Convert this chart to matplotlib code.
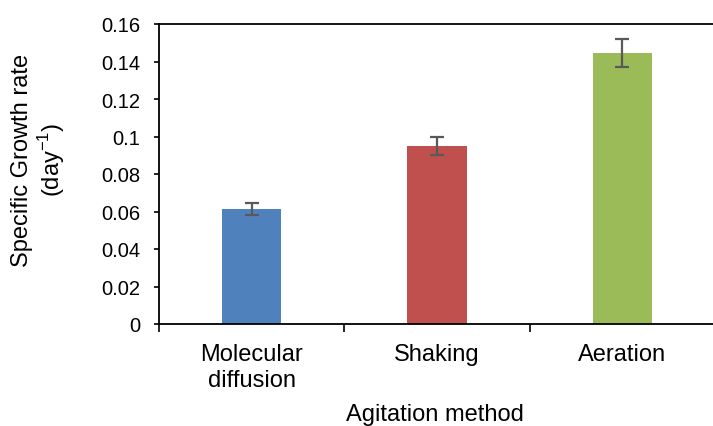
import matplotlib
matplotlib.use("Agg")
import matplotlib.pyplot as plt
import numpy as np

plt.rcParams["font.family"] = ["Liberation Sans", "DejaVu Sans"]

categories = ["Molecular\ndiffusion", "Shaking", "Aeration"]
growth_rate = [0.0613, 0.0950, 0.1445]
errors = [0.0030, 0.0048, 0.0073]
colors = ["#4F81BD", "#C0504D", "#9BBB59"]
yticks = [0, 0.02, 0.04, 0.06, 0.08, 0.1, 0.12, 0.14, 0.16]
ytick_labels = ["0", "0.02", "0.04", "0.06", "0.08", "0.1", "0.12", "0.14", "0.16"]

W, H = 713, 427
fig = plt.figure(figsize=(W / 100, H / 100), dpi=100)
ax = fig.add_axes([159 / W, 1 - 325 / H, (715 - 159) / W, 300 / H])

x = np.arange(len(categories))
ax.bar(x, growth_rate, width=0.32, color=colors, zorder=2)
ax.errorbar(x, growth_rate, yerr=errors, fmt="none", ecolor="#595959",
            elinewidth=1.6, capsize=4.7, capthick=1.6, zorder=3)

ax.set_xlim(-0.5, len(categories) - 0.5)
ax.set_ylim(0, 0.16)
ax.set_yticks(yticks)
ax.set_yticklabels(ytick_labels, fontsize=14.5)
ax.set_xticks(x)
ax.set_xticklabels(categories, fontsize=17, linespacing=1.2)
ax.tick_params(axis="x", length=0, pad=14)
ax.set_xticks(np.arange(-0.5, len(categories)), minor=True)
ax.tick_params(axis="x", which="minor", length=6, width=1.2, direction="out")
ax.tick_params(axis="y", length=3.5, width=1.2, direction="out", pad=10)

for side in ["left", "top", "right", "bottom"]:
    ax.spines[side].set_linewidth(1.3)
    ax.spines[side].set_color("black")

ax.set_xlabel("Agitation method", fontsize=17)
ax.xaxis.set_label_coords(0.497, -0.262)
fig.text(39 / W, 1 - 160 / H, "Specific Growth rate\n(day$^{\\mathregular{-1}}$)",
         fontsize=17, rotation=90, ha="center", va="center",
         multialignment="center", linespacing=1.15)

fig.savefig("out.png", dpi=100)
